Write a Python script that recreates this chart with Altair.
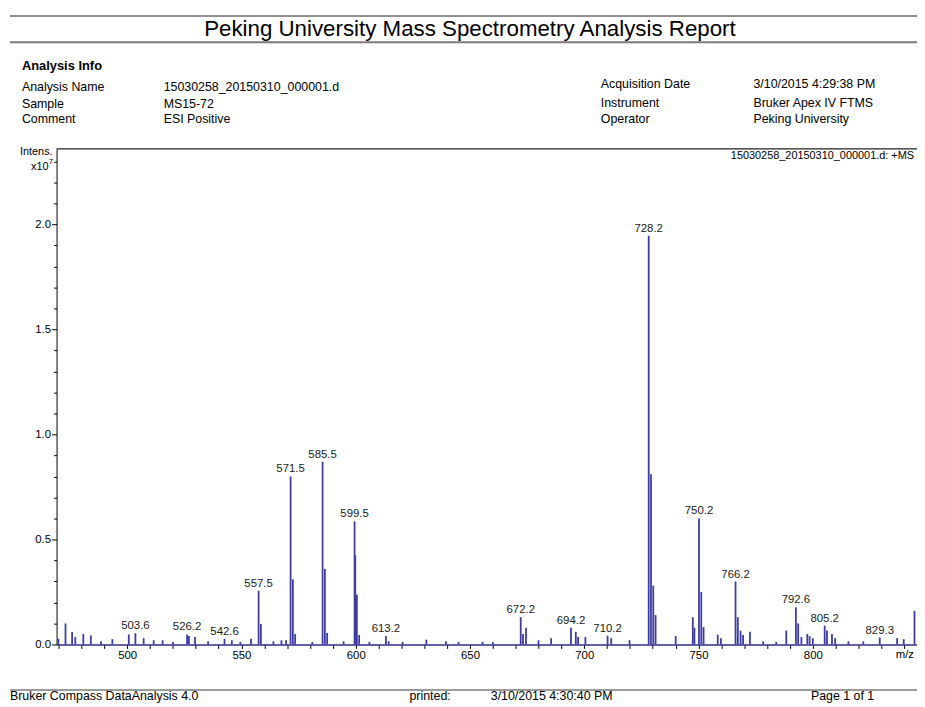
import altair as alt
import pandas as pd

# ---- spectrum peaks (m/z, intensity in units of 1e7) ----
mz = [469.9, 473.0, 475.9, 477.3, 480.8, 484.1, 488.5, 493.5, 500.7, 503.6, 507.2, 511.6,
      515.5, 520.0, 526.2, 527.0, 529.7, 535.4, 542.6, 545.8, 549.5, 554.2, 557.5, 558.5,
      564.0, 567.5, 569.5, 571.5, 572.5, 573.5, 581.0, 585.5, 586.5, 587.5, 594.7, 599.5,
      599.8, 600.5, 601.5, 606.0, 613.2, 614.4, 620.5, 630.9, 639.5, 645.0, 655.5, 660.0,
      672.2, 673.2, 674.5, 680.0, 685.5, 694.2, 696.3, 697.3, 700.5, 710.2, 711.8, 719.8,
      728.2, 729.2, 730.2, 731.2, 740.0, 747.5, 748.2, 750.2, 751.2, 752.2, 758.4, 759.8,
      766.2, 767.2, 768.4, 769.5, 772.5, 778.3, 784.0, 788.4, 792.6, 793.6, 795.0, 797.6,
      798.6, 800.0, 805.2, 806.2, 808.4, 809.8, 815.6, 822.1, 829.3, 836.9, 839.8, 844.5]
intensity = [0.027, 0.100, 0.060, 0.035, 0.050, 0.043, 0.015, 0.025, 0.048, 0.054, 0.030, 0.020,
             0.020, 0.012, 0.048, 0.040, 0.035, 0.015, 0.027, 0.020, 0.012, 0.027, 0.256, 0.098,
             0.015, 0.020, 0.020, 0.800, 0.310, 0.050, 0.012, 0.870, 0.360, 0.055, 0.015, 0.586,
             0.425, 0.237, 0.045, 0.012, 0.040, 0.015, 0.012, 0.023, 0.015, 0.012, 0.012, 0.012,
             0.130, 0.050, 0.080, 0.020, 0.030, 0.080, 0.060, 0.035, 0.035, 0.042, 0.030, 0.020,
             1.946, 0.810, 0.280, 0.140, 0.040, 0.130, 0.080, 0.600, 0.250, 0.083, 0.046, 0.030,
             0.300, 0.130, 0.066, 0.045, 0.060, 0.015, 0.012, 0.066, 0.177, 0.100, 0.035, 0.050,
             0.040, 0.030, 0.090, 0.066, 0.050, 0.030, 0.015, 0.015, 0.033, 0.030, 0.025, 0.160]

# ---- annotated peaks ----
label_mz = [503.6, 526.2, 542.6, 557.5, 571.5, 585.5, 599.5, 613.2, 672.2, 694.2, 710.2,
            728.2, 750.2, 766.2, 792.6, 805.2, 829.3]

# ---- axis tick values ----
x_ticks = list(range(470, 850, 10))
y_ticks = [round(i * 0.1, 1) for i in range(24)]

# ---- report texts ----
report_title = "Peking University Mass Spectrometry Analysis Report"
info_header = "Analysis Info"
left_keys = ["Analysis Name", "Sample", "Comment"]
left_vals = ["15030258_20150310_000001.d", "MS15-72", "ESI Positive"]
right_keys = ["Acquisition Date", "Instrument", "Operator"]
right_vals = ["3/10/2015 4:29:38 PM", "Bruker Apex IV FTMS", "Peking University"]
trace_name = "15030258_20150310_000001.d: +MS"
x_title = "m/z"
footer_left = "Bruker Compass DataAnalysis 4.0"
footer_printed = "printed:"
footer_date = "3/10/2015 4:30:40 PM"
footer_page = "Page 1 of 1"

FONT = "Liberation Sans, Arial, sans-serif"
SPEC = "#3c3ca2"
W, H = 868, 500

peaks = pd.DataFrame({"mz": mz, "intensity": intensity})
lookup = dict(zip(mz, intensity))
labels = pd.DataFrame({
    "mz": label_mz,
    "intensity": [lookup[m] for m in label_mz],
    "label": [f"{m:.1f}" for m in label_mz],
})

one = pd.DataFrame({"k": [0]})

x_scale = alt.Scale(domain=[469.1, 845.6], nice=False, zero=False)
y_scale = alt.Scale(domain=[0, 2.36], nice=False, zero=True)

MAJOR_Y = "abs(datum.value*2 - round(datum.value*2)) < 0.001"

x_axis = alt.Axis(
    values=x_ticks, labelExpr="datum.value % 50 == 0 ? datum.label : ''", format="d",
    title=None, grid=False, tickSize=4, tickColor="black", labelPadding=1,
    domainColor="#2e2e8c", domainWidth=1.5, labelFont=FONT, labelFontSize=11.5,
    labelColor="black", labelFlush=False, labelOverlap=False, labelBound=False,
)
y_axis = alt.Axis(
    values=y_ticks, format=".1f",
    labelExpr=MAJOR_Y + " ? datum.label : ''",
    title=None, grid=False,
    tickSize={"condition": {"test": MAJOR_Y, "value": 5}, "value": 3},
    tickColor="black", domainColor="black", labelPadding=1, labelFont=FONT,
    labelFontSize=11.5, labelColor="black", labelOverlap=False, labelBound=False,
    labelFlush=False,
)

spectrum = alt.Chart(peaks).mark_rule(color=SPEC, strokeWidth=1.8).encode(
    x=alt.X("mz:Q", scale=x_scale, axis=x_axis),
    y=alt.Y("intensity:Q", scale=y_scale, axis=y_axis),
    y2=alt.datum(0),
)

peak_labels = alt.Chart(labels).mark_text(
    baseline="bottom", dy=-2, font=FONT, fontSize=11.5, color="#1a1a1a"
).encode(
    x=alt.X("mz:Q", scale=x_scale, axis=x_axis),
    y=alt.Y("intensity:Q", scale=y_scale, axis=y_axis),
    text="label:N",
)


def txt(s, x, y, size=12.5, align="left", weight="normal", baseline="middle", color="black"):
    return alt.Chart(one).mark_text(
        text=s, align=align, baseline=baseline, font=FONT, fontSize=size,
        fontWeight=weight, color=color,
    ).encode(x=alt.value(x), y=alt.value(y))


def hline(y, x1, x2, color, width):
    return alt.Chart(one).mark_rule(color=color, strokeWidth=width).encode(
        x=alt.value(x1), x2=alt.value(x2), y=alt.value(y)
    )


layers = [
    hline(-134, -47, W, "#222222", 1.2),
    txt(report_title, 417, -114, size=22.5, align="center", baseline="alphabetic"),
    hline(-107.5, -47, W, "#7a7a7a", 2),
    txt(info_header, -35, -84, size=13, weight="bold"),
]
for i, (k, v) in enumerate(zip(left_keys, left_vals)):
    yy = [-62, -45.5, -30][i]
    layers.append(txt(k, -35, yy))
    layers.append(txt(v, 108, yy))
for i, (k, v) in enumerate(zip(right_keys, right_vals)):
    yy = [-65, -46, -30][i]
    layers.append(txt(k, 549, yy))
    layers.append(txt(v, 703, yy))

layers += [
    hline(0, 0, W, "#222222", 1.2),                       # plot frame top
    txt("Intens.", -4, 3, size=11, align="right"),
    txt("x10", -8, 18, size=11, align="right"),
    txt("7", -8, 13, size=8, align="left"),
    txt(trace_name, W - 3, 7, size=11, align="right"),
    txt(x_title, W - 3, 511, size=11.5, align="right"),
    spectrum,
    peak_labels,
    hline(546, -47, W, "#7a7a7a", 1.5),
    txt(footer_left, -47, 552.5),
    txt(footer_printed, 356, 552.5),
    txt(footer_date, 438, 552.5),
    txt(footer_page, 761, 552.5),
]

chart = alt.layer(*layers).properties(
    width=W, height=H,
    autosize=alt.AutoSizeParams(type="none"),
    padding={"left": 49, "top": 139, "right": 0, "bottom": 60},
    background="white",
).configure_view(stroke=None)

chart.save("out.html", embed_options={"renderer": "svg", "actions": False})
